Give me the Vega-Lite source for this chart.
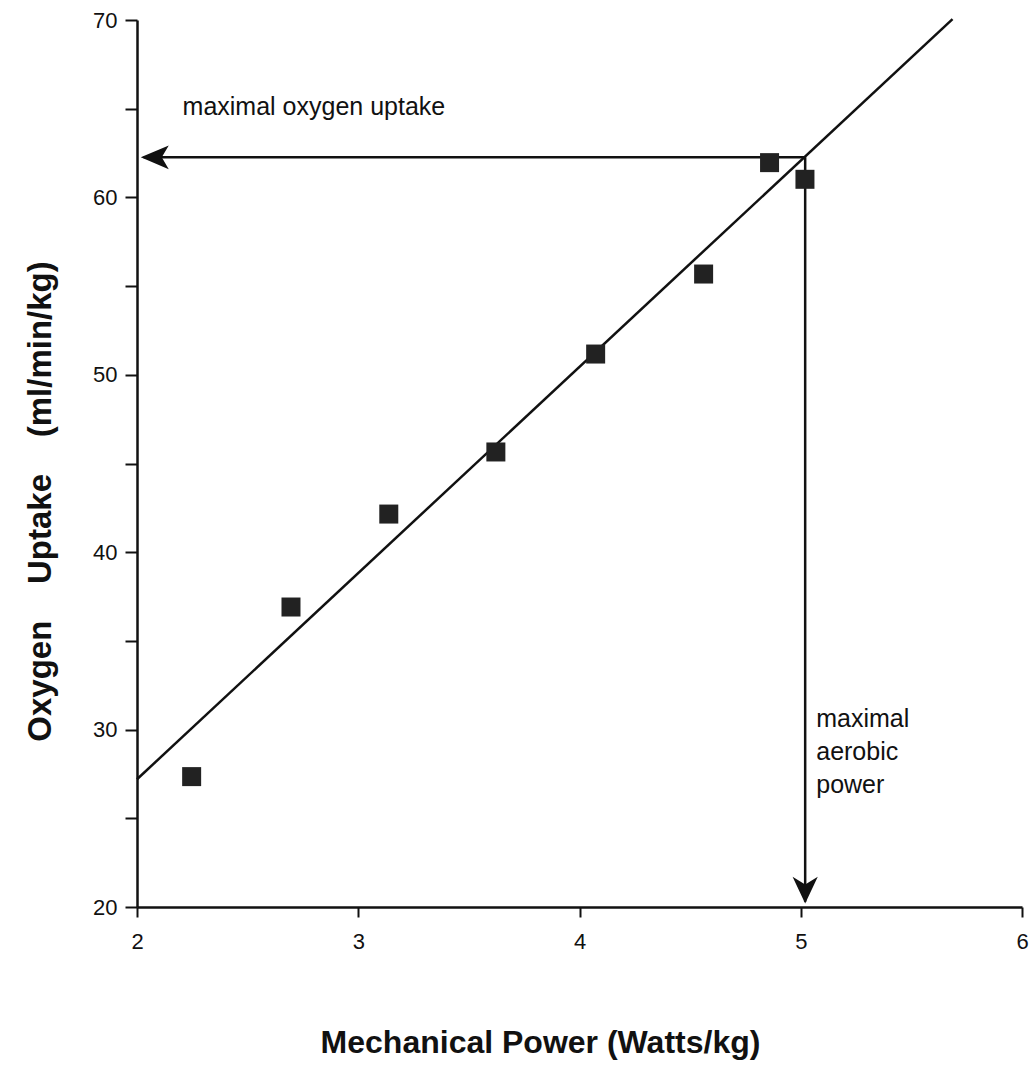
{
  "$schema": "https://vega.github.io/schema/vega-lite/v6.json",
  "width": 885,
  "height": 887,
  "autosize": {"type": "none"},
  "padding": {"left": 137, "top": 20, "right": 7, "bottom": 176},
  "background": "white",
  "config": {
    "view": {"stroke": null},
    "axis": {
      "grid": false,
      "domainColor": "#111",
      "domainWidth": 2.5,
      "tickColor": "#111",
      "tickWidth": 2,
      "labelFont": "Liberation Sans",
      "labelColor": "#111",
      "labelFontSize": 22,
      "labelFlush": false,
      "labelOverlap": false,
      "titleFont": "Liberation Sans",
      "titleFontWeight": "bold",
      "titleColor": "#111",
      "titleFontSize": 32
    }
  },
  "datasets": {
    "points": [
      {"power": 2.247, "uptake": 27.35},
      {"power": 2.696, "uptake": 36.91},
      {"power": 3.138, "uptake": 42.15},
      {"power": 3.622, "uptake": 45.65},
      {"power": 4.073, "uptake": 51.17},
      {"power": 4.561, "uptake": 55.68},
      {"power": 4.859, "uptake": 61.96},
      {"power": 5.019, "uptake": 61.02}
    ],
    "fit": [
      {"power": 2.0, "uptake": 27.2},
      {"power": 5.686, "uptake": 70.05}
    ],
    "arrows": [
      {"power": 2.03, "power2": 5.02, "uptake": 62.26, "uptake2": 62.26},
      {"power": 5.02, "power2": 5.02, "uptake": 62.26, "uptake2": 20.3}
    ],
    "headLeft": [{"power": 2.017, "uptake": 62.26}],
    "headDown": [{"power": 5.02, "uptake": 20.2}],
    "notes": [
      {"power": 2.206, "uptake": 64.64, "label": "maximal oxygen uptake"},
      {"power": 5.07, "uptake": 30.15, "label": "maximal"},
      {"power": 5.07, "uptake": 28.29, "label": "aerobic"},
      {"power": 5.07, "uptake": 26.43, "label": "power"}
    ]
  },
  "encoding": {
    "x": {
      "field": "power",
      "type": "quantitative",
      "scale": {"domain": [2, 6], "nice": false, "zero": false},
      "axis": {
        "title": "Mechanical Power (Watts/kg)",
        "values": [2, 2.5, 3, 3.5, 4, 4.5, 5, 5.5, 6],
        "format": "d",
        "labelExpr": "datum.value % 1 == 0 ? datum.label : ''",
        "tickSize": 10,
        "labelPadding": 14,
        "titleX": 403,
        "titleY": 135,
        "titleBaseline": "middle"
      }
    },
    "y": {
      "field": "uptake",
      "type": "quantitative",
      "scale": {"domain": [20, 70], "nice": false, "zero": false},
      "axis": {
        "title": "Oxygen\u00a0\u00a0\u00a0\u00a0Uptake\u00a0\u00a0\u00a0\u00a0(ml/min/kg)",
        "values": [20, 25, 30, 35, 40, 45, 50, 55, 60, 65, 70],
        "format": "d",
        "labelExpr": "datum.value % 10 == 0 ? datum.label : ''",
        "tickSize": 12,
        "labelPadding": 8,
        "titleFontSize": 33,
        "titleX": -97,
        "titleY": 481,
        "titleBaseline": "middle"
      }
    }
  },
  "layer": [
    {
      "data": {"name": "fit"},
      "mark": {"type": "line", "color": "#111", "strokeWidth": 2.5}
    },
    {
      "data": {"name": "arrows"},
      "mark": {"type": "rule", "color": "#111", "strokeWidth": 2.5},
      "encoding": {
        "x2": {"field": "power2"},
        "y2": {"field": "uptake2"}
      }
    },
    {
      "data": {"name": "headLeft"},
      "mark": {"type": "point", "shape": "M0,0 L4,-1.7 L3,0 L4,1.7 Z", "size": 196, "filled": true, "color": "#111", "opacity": 1}
    },
    {
      "data": {"name": "headDown"},
      "mark": {"type": "point", "shape": "M0,0 L-1.8,-3.8 L0,-2.7 L1.8,-3.8 Z", "size": 196, "filled": true, "color": "#111", "opacity": 1}
    },
    {
      "data": {"name": "points"},
      "mark": {"type": "point", "shape": "square", "size": 361, "filled": true, "color": "#222", "opacity": 1}
    },
    {
      "data": {"name": "notes"},
      "mark": {"type": "text", "align": "left", "baseline": "alphabetic", "font": "Liberation Sans", "fontSize": 25, "color": "#111"},
      "encoding": {"text": {"field": "label"}}
    }
  ]
}
